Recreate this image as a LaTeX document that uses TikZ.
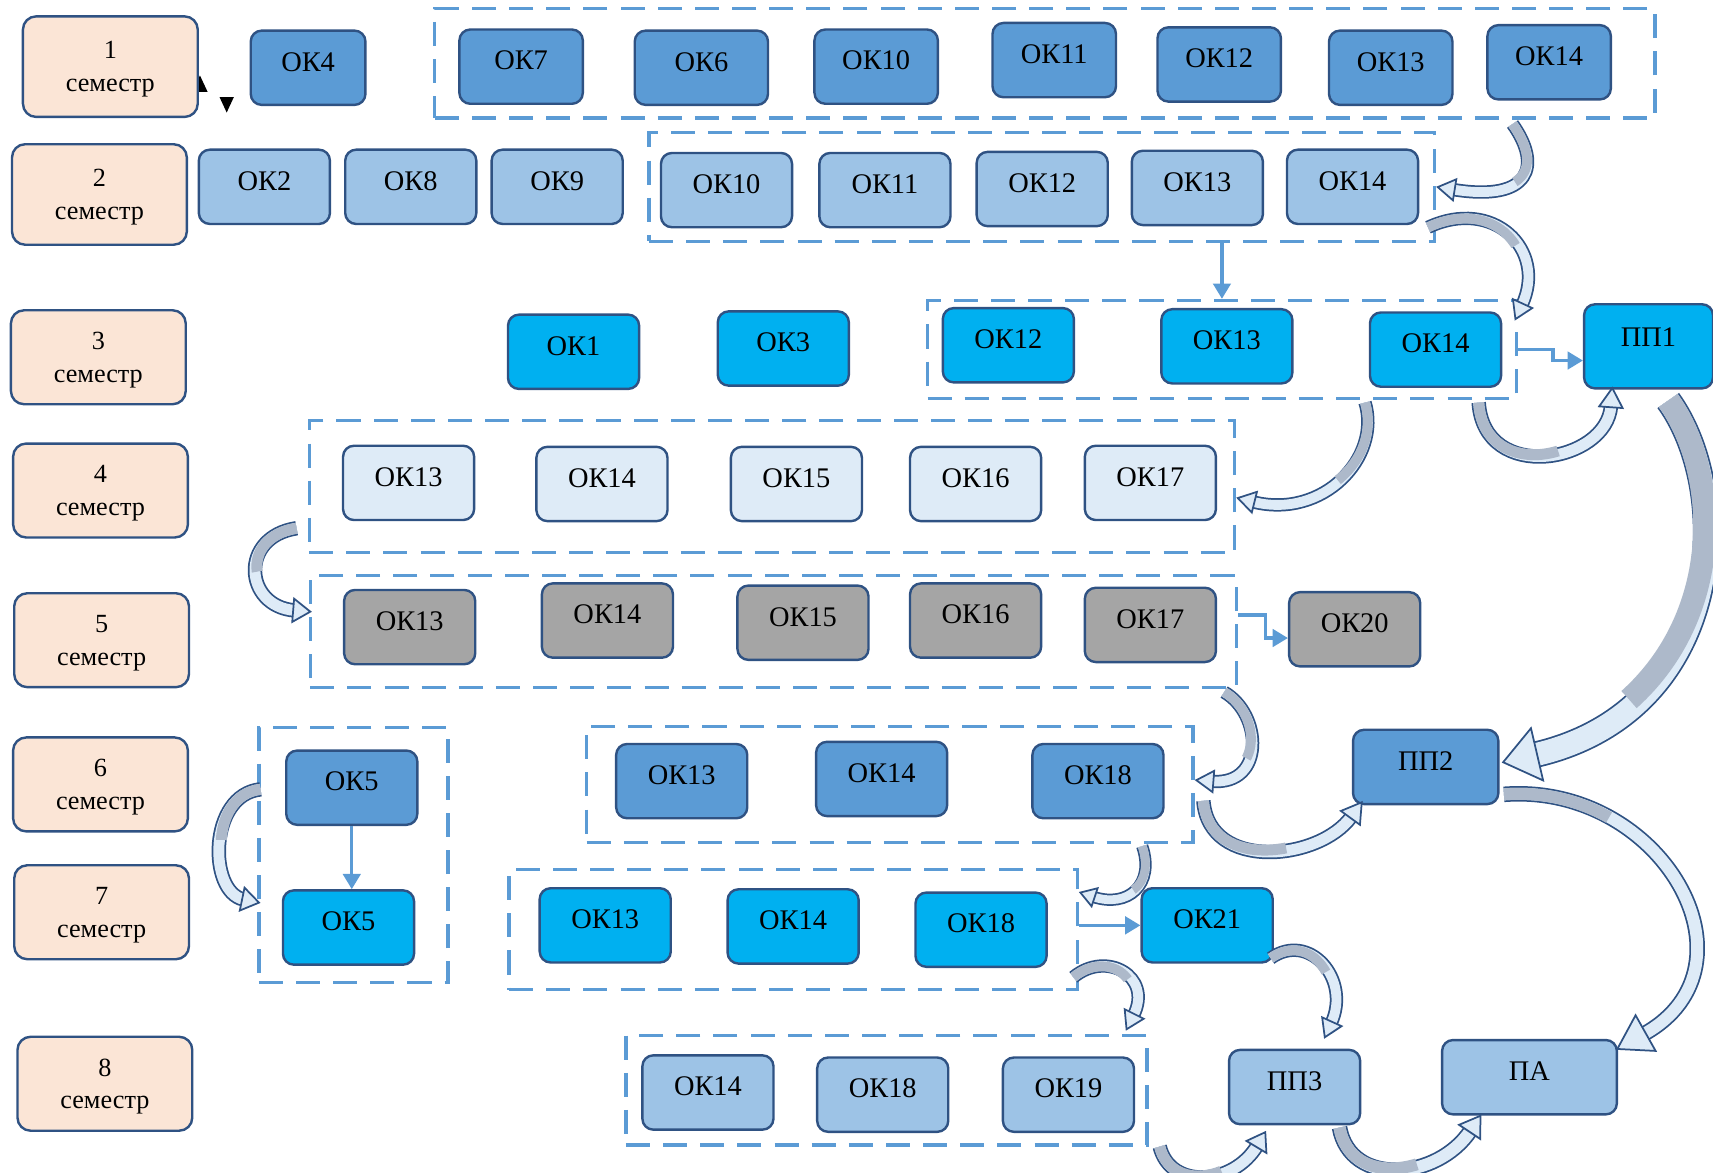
\documentclass[tikz,border=0pt]{standalone}
\usepackage{fontspec}
\setmainfont{Liberation Serif}
\usetikzlibrary{arrows.meta,calc}

\definecolor{bdr}{HTML}{2F5283}
\definecolor{peach}{HTML}{FBE5D6}
\definecolor{blueA}{HTML}{5B9BD5}
\definecolor{blueB}{HTML}{9DC3E6}
\definecolor{cyanC}{HTML}{00B0F0}
\definecolor{paleD}{HTML}{DEEBF7}
\definecolor{grayE}{HTML}{A5A5A5}
\definecolor{dashblue}{HTML}{5B9BD5}
\definecolor{tailfill}{HTML}{ADB9CA}
\definecolor{headfill}{HTML}{DEEBF7}

\tikzset{
    sem/.style={rectangle, rounded corners=6pt, draw=bdr, line width=1.1pt, fill=peach,
                minimum width=80pt, minimum height=43pt, align=center, text depth=0pt,
                font=\fontsize{12}{15}\selectfont},
    ok/.style={rectangle, rounded corners=5pt, draw=bdr, line width=1.1pt,
               minimum width=60pt, minimum height=34pt, text height=9pt, text depth=6pt,
               font=\fontsize{13}{15}\selectfont},
    k1/.style={ok, fill=blueA},
    top/.style={k1, minimum width=56.5pt},
    k2/.style={ok, fill=blueB},
    k3/.style={ok, fill=cyanC},
    k4/.style={ok, fill=paleD},
    k5/.style={ok, fill=grayE},
    grp/.style={draw=dashblue, line width=1.5pt, dash pattern=on 11pt off 6pt, inner sep=0pt},
    link/.style={draw=dashblue, line width=1.5pt, -{Triangle[length=7pt,width=8pt]}},
    band/.style n args={4}{draw=none,
        preaction={draw=bdr, line width=#1+1.6pt, shorten >=#3-1pt},
        preaction={draw=headfill, line width=#1, shorten >=#3-1pt},
        postaction={draw=tailfill, line width=#1, dash pattern=on #2 off 3000pt},
        postaction={draw=bdr, line width=0.8pt, dash pattern=on 0pt off 3000pt,
                    -{Triangle[length=#3, width=#4, fill=headfill]}}},
}

\begin{document}
\begin{tikzpicture}[x=0.5pt, y=-0.5pt]
    \useasboundingbox (0,0) rectangle (1568,1073);

    \node[grp, minimum width=558.5pt, minimum height=50pt] (g1) at (956.5,58) {};
    \node[grp, minimum width=359.5pt, minimum height=50pt] (g2) at (953.5,171) {};
    \node[grp, minimum width=269.5pt, minimum height=45pt] (g3) at (1118.5,320) {};
    \node[grp, minimum width=423.5pt, minimum height=60.5pt] (g4) at (706.5,445.5) {};
    \node[grp, minimum width=424pt, minimum height=51pt] (g5) at (708,578) {};
    \node[grp, minimum width=277.5pt, minimum height=53pt] (g6) at (814.5,718) {};
    \node[grp, minimum width=260pt, minimum height=55pt] (g7) at (726,851) {};
    \node[grp, minimum width=86.5pt, minimum height=116.5pt] (g57) at (323.5,782.5) {};
    \node[grp, minimum width=238.5pt, minimum height=50pt] (g8) at (811.5,998) {};

    \fill (176,84) -- (183,69) -- (190,84) -- cycle;
    \node[sem, minimum height=46pt] (s1) at (101,61) {1\\семестр};
    \fill (201,89) -- (214,89) -- (207.5,103) -- cycle;
    \node[sem, minimum height=46pt] (s2) at (91,178) {2\\семестр};
    \node[sem] (s3) at (90,327) {3\\семестр};
    \node[sem] (s4) at (92,449) {4\\семестр};
    \node[sem] (s5) at (93,586) {5\\семестр};
    \node[sem] (s6) at (92,718) {6\\семестр};
    \node[sem] (s7) at (93,835) {7\\семестр};
    \node[sem] (s8) at (96,992) {8\\семестр};

    \node[top, minimum width=52.5pt] (r1k4) at (282,62) {ОК4};
    \node[top] (r1k7) at (477,61) {ОК7};
    \node[top, minimum width=61pt] (r1k6) at (642,62) {ОК6};
    \node[top] (r1k10) at (802,61) {ОК10};
    \node[top] (r1k11) at (965,55) {ОК11};
    \node[top] (r1k12) at (1116,59) {ОК12};
    \node[top] (r1k13) at (1273,62) {ОК13};
    \node[top] (r1k14) at (1418,57) {ОК14};

    \node[k2] (r2k2) at (242,171) {ОК2};
    \node[k2] (r2k8) at (376,171) {ОК8};
    \node[k2] (r2k9) at (510,171) {ОК9};
    \node[k2] (r2k10) at (665,174) {ОК10};
    \node[k2] (r2k11) at (810,174) {ОК11};
    \node[k2] (r2k12) at (954,173) {ОК12};
    \node[k2] (r2k13) at (1096,172) {ОК13};
    \node[k2] (r2k14) at (1238,171) {ОК14};

    \node[k3] (r3k1) at (525,322) {ОК1};
    \node[k3] (r3k3) at (717,319) {ОК3};
    \node[k3] (r3k12) at (923,316) {ОК12};
    \node[k3] (r3k13) at (1123,317) {ОК13};
    \node[k3] (r3k14) at (1314,320) {ОК14};
    \node[k3, minimum width=59pt, minimum height=38.5pt, text depth=9pt] (pp1) at (1509,317) {ПП1};

    \node[k4] (r4k13) at (374,442) {ОК13};
    \node[k4] (r4k14) at (551,443) {ОК14};
    \node[k4] (r4k15) at (729,443) {ОК15};
    \node[k4] (r4k16) at (893,443) {ОК16};
    \node[k4] (r4k17) at (1053,442) {ОК17};

    \node[k5] (r5k13) at (375,574) {ОК13};
    \node[k5] (r5k14) at (556,568) {ОК14};
    \node[k5] (r5k15) at (735,570) {ОК15};
    \node[k5] (r5k16) at (893,568) {ОК16};
    \node[k5] (r5k17) at (1053,572) {ОК17};
    \node[k5] (r5k20) at (1240,576) {ОК20};

    \node[k1] (r6k5) at (322,721) {ОК5};
    \node[k1] (r6k13) at (624,715) {ОК13};
    \node[k1] (r6k14) at (807,713) {ОК14};
    \node[k1] (r6k18) at (1005,715) {ОК18};
    \node[k1, minimum width=66.5pt] (pp2) at (1305,702) {ПП2};

    \node[k3] (r7k5) at (319,849) {ОК5};
    \node[k3] (r7k13) at (554,847) {ОК13};
    \node[k3] (r7k14) at (726,848) {ОК14};
    \node[k3] (r7k18) at (898,851) {ОК18};
    \node[k3] (r7k21) at (1105,847) {ОК21};

    \node[k2] (r8k14) at (648,1000) {ОК14};
    \node[k2] (r8k18) at (808,1002) {ОК18};
    \node[k2] (r8k19) at (978,1002) {ОК19};
    \node[k2] (pp3) at (1185,995) {ПП3};
    \node[k2, minimum width=80pt] (pa) at (1400,986) {ПА};

    \draw[link] (g2.south -| g3.north) -- (g3.north);
    \draw[link] (g3.east) -- ++(32,0) |- ($(pp1.west)+(0,13)$);
    \draw[link] ($(g5.east)+(0,-15)$) -- ++(25,0) |- ($(r5k20.west)+(0,8)$);
    \draw[link] (r6k5.south) -- (r6k5.south |- r7k5.north);
    \draw[link] (g7.east |- r7k21.west) -- (r7k21.west);

    \draw[band={4.5pt}{30pt}{9pt}{11pt}] ($(g1.south east)+(-132,4)$) .. controls +(27,38) and +(87,14) .. (g2.east);
    \draw[band={4.5pt}{45pt}{9pt}{11pt}] ($(r2k14.south east)+(8,2)$) .. controls +(60,-28) and +(30,-65) .. ($(g3.north east)+(-3,20)$);
    \draw[band={5pt}{50pt}{10pt}{12pt}] ($(g3.south east)+(-36,2)$) .. controls +(5,75) and +(-5,70) .. ($(pp1.south west)+(27,-3)$);
    \draw[band={10.5pt}{150pt}{17pt}{26pt}] ($(pp1.south)+(18,10)$) .. controls +(61,84) and +(206,-48) .. ($(pp2.east)+(2,-4)$);
    \draw[band={4.5pt}{40pt}{9pt}{11pt}] ($(g3.south)+(131,2)$) .. controls +(15,50) and +(80,20) .. ($(g4.east)+(0,10)$);
    \draw[band={5pt}{30pt}{9pt}{12pt}] ($(g4.south west)+(-10,-24)$) .. controls +(-53,8) and +(-62,-5) .. ($(g5.west)+(3,-18)$);
    \draw[band={4.5pt}{35pt}{9pt}{11pt}] ($(g5.south east)+(-13,3)$) .. controls +(35,20) and +(65,5) .. ($(g6.east)+(0,-4)$);
    \draw[band={5pt}{50pt}{10pt}{12pt}] ($(g6.east)+(8,15)$) .. controls +(5,65) and +(-40,55) .. ($(pp2.south west)+(10,-4)$);
    \draw[band={5.5pt}{50pt}{16pt}{20pt}] ($(pp2.south east)+(4,-10)$) .. controls +(144,-11) and +(137,-77) .. ($(pa.north east)+(-2,10)$);
    \draw[band={4pt}{22pt}{8pt}{10pt}] ($(g6.south east)+(-48,2)$) .. controls +(12,35) and +(45,15) .. ($(g7.north east)+(0,22)$);
    \draw[band={4.5pt}{28pt}{9pt}{11pt}] ($(g7.south east)+(-5,-13)$) .. controls +(30,-25) and +(25,-50) .. ($(g8.north east)+(-21,-3)$);
    \draw[band={4.5pt}{30pt}{9pt}{11pt}] ($(r7k21.south east)+(-3,-5)$) .. controls +(35,-25) and +(25,-55) .. ($(pp3.north)+(27,-9)$);
    \draw[band={5pt}{35pt}{9pt}{12pt}] ($(g8.south east)+(10,0)$) .. controls +(10,40) and +(-30,50) .. ($(pp3.south west)+(35,5)$);
    \draw[band={5.5pt}{45pt}{10pt}{13pt}] ($(pp3.south east)+(-20,2)$) .. controls +(10,55) and +(-40,60) .. ($(pa.south west)+(37,-1)$);
    \draw[band={5pt}{32pt}{9pt}{12pt}] ($(g57.west)+(3,-60)$) .. controls +(-48,5) and +(-48,-10) .. ($(g57.west)+(3,44)$);
\end{tikzpicture}
\end{document}
